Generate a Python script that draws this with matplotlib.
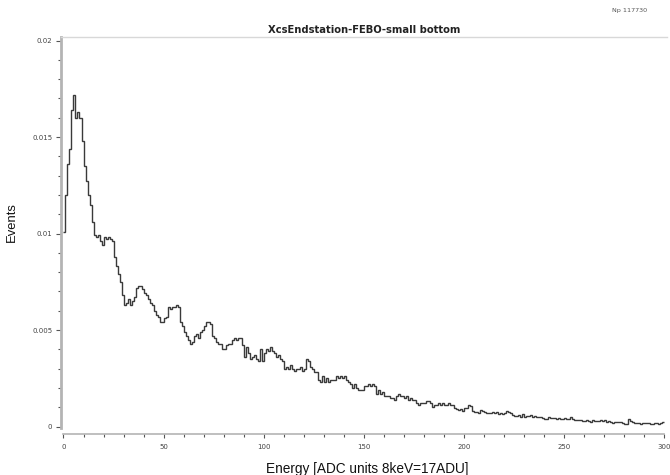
"""Energy spectrum, XcsEndstation FEBO small bottom — step histogram."""

import numpy as np
import matplotlib as mpl

mpl.use("Agg")
import matplotlib.pyplot as plt
from matplotlib.ticker import FuncFormatter, MultipleLocator

INK = "#3a3a3a"
TICK = "#555555"
SPINE = "#b4b4b4"
FRAME = "#d8d8d8"

TITLE = "XcsEndstation-FEBO-small bottom"
CORNER = "Np 117730"
XLABEL = "Energy [ADC units 8keV=17ADU]"
YLABEL = "Events"

E_MIN, E_MAX = 0, 300  # one bin per ADC unit

# normalised events per bin
EVENTS_0_100 = [
    0.0101, 0.0120, 0.0136, 0.0144, 0.0164, 0.0172, 0.0160, 0.0163, 0.0160, 0.0148,
    0.0135, 0.0127, 0.0120, 0.0115, 0.0106, 0.0099, 0.0098, 0.0099, 0.0096, 0.0094,
    0.0098, 0.0097, 0.0098, 0.0097, 0.0096, 0.0088, 0.0083, 0.0079, 0.0075, 0.0068,
    0.0063, 0.0064, 0.0066, 0.0063, 0.0065, 0.0067, 0.0072, 0.0073, 0.0073, 0.0071,
    0.0069, 0.0068, 0.0066, 0.0064, 0.0063, 0.0060, 0.0058, 0.0057, 0.0054, 0.0054,
    0.0056, 0.0057, 0.0062, 0.0061, 0.0062, 0.0062, 0.0063, 0.0062, 0.0054, 0.0052,
    0.0049, 0.0047, 0.0045, 0.0043, 0.0044, 0.0047, 0.0048, 0.0046, 0.0049, 0.0050,
    0.0052, 0.0054, 0.0054, 0.0053, 0.0047, 0.0046, 0.0044, 0.0043, 0.0043, 0.0040,
    0.0040, 0.0042, 0.0043, 0.0043, 0.0045, 0.0046, 0.0045, 0.0046, 0.0046, 0.0042,
    0.0036, 0.0041, 0.0038, 0.0035, 0.0036, 0.0037, 0.0035, 0.0034, 0.0040, 0.0034,
]
EVENTS_100_200 = [
    0.0038, 0.0040, 0.0039, 0.0041, 0.0039, 0.0038, 0.0036, 0.0037, 0.0035, 0.0034,
    0.0030, 0.0031, 0.0030, 0.0032, 0.0030, 0.0029, 0.0030, 0.0030, 0.0031, 0.0029,
    0.0030, 0.0035, 0.0034, 0.0031, 0.0030, 0.0028, 0.0028, 0.0024, 0.0023, 0.0026,
    0.0023, 0.0025, 0.0023, 0.0024, 0.0024, 0.0024, 0.0026, 0.0025, 0.0026, 0.0025,
    0.0026, 0.0024, 0.0023, 0.0022, 0.0020, 0.0022, 0.0020, 0.0019, 0.0019, 0.0019,
    0.0021, 0.0021, 0.0022, 0.0021, 0.0022, 0.0021, 0.0017, 0.0019, 0.0017, 0.0018,
    0.0016, 0.0016, 0.0016, 0.0015, 0.0015, 0.0014, 0.0016, 0.0017, 0.0016, 0.0016,
    0.0015, 0.0016, 0.0014, 0.0015, 0.0014, 0.0014, 0.0012, 0.0011, 0.0012, 0.0012,
    0.0012, 0.0013, 0.0013, 0.0012, 0.0010, 0.0011, 0.0011, 0.0012, 0.0011, 0.0012,
    0.0011, 0.0011, 0.0012, 0.0011, 0.0011, 0.00094, 0.00090, 0.00085, 0.00090, 0.00082,
]
EVENTS_200_300 = [
    0.00094, 0.00097, 0.00110, 0.00106, 0.00082, 0.00077, 0.00077, 0.00072, 0.00085, 0.00082,
    0.00075, 0.00068, 0.00068, 0.00072, 0.00077, 0.00072, 0.00075, 0.00063, 0.00072, 0.00065,
    0.00072, 0.00082, 0.00077, 0.00068, 0.00060, 0.00054, 0.00054, 0.00058, 0.00051, 0.00065,
    0.00051, 0.00054, 0.00054, 0.00060, 0.00051, 0.00054, 0.00047, 0.00051, 0.00047, 0.00042,
    0.00037, 0.00037, 0.00047, 0.00042, 0.00042, 0.00042, 0.00040, 0.00042, 0.00037, 0.00039,
    0.00042, 0.00040, 0.00037, 0.00051, 0.00040, 0.00032, 0.00032, 0.00034, 0.00032, 0.00030,
    0.00027, 0.00034, 0.00029, 0.00025, 0.00034, 0.00030, 0.00029, 0.00030, 0.00034, 0.00030,
    0.00035, 0.00025, 0.00030, 0.00025, 0.00020, 0.00021, 0.00023, 0.00025, 0.00021, 0.00020,
    0.00013, 0.00015, 0.00037, 0.00030, 0.00025, 0.00020, 0.00020, 0.00016, 0.00013, 0.00020,
    0.00018, 0.00016, 0.00020, 0.00015, 0.00013, 0.00016, 0.00016, 0.00013, 0.00018, 0.00021,
]

events = np.array(EVENTS_0_100 + EVENTS_100_200 + EVENTS_200_300)
edges = np.arange(E_MIN, E_MAX + 1)

fig = plt.figure(figsize=(6.7, 4.75), dpi=100, facecolor="white")
ax = fig.add_axes([0.091, 0.098, 0.9045, 0.8248])

ax.stairs(events, edges, baseline=None, color=INK, linewidth=1.0)

ax.set_xlim(-1.25, 301.3)
ax.set_ylim(-0.0001, 0.0202)

ax.xaxis.set_major_locator(MultipleLocator(50))
ax.xaxis.set_minor_locator(MultipleLocator(10))
ax.yaxis.set_major_locator(MultipleLocator(0.005))
ax.yaxis.set_minor_locator(MultipleLocator(0.001))
fmt = FuncFormatter(lambda v, _: f"{v:g}")
ax.xaxis.set_major_formatter(fmt)
ax.yaxis.set_major_formatter(fmt)

ax.spines["right"].set_visible(False)
ax.spines["top"].set_color(FRAME)
ax.spines["top"].set_linewidth(1.0)
ax.spines["left"].set_color(SPINE)
ax.spines["left"].set_linewidth(2.0)
ax.spines["bottom"].set_color(SPINE)
ax.spines["bottom"].set_linewidth(1.2)
ax.spines["bottom"].set_position(("outward", 4))
ax.spines["bottom"].set_bounds(E_MIN, E_MAX)

ax.tick_params(which="both", direction="out", color=TICK, labelcolor="#444444",
               labelsize=5.0, width=0.8)
ax.tick_params(which="major", length=3.6, pad=2.5)
ax.tick_params(which="minor", length=2.0)
ax.tick_params(axis="x", which="major", length=3.0, pad=4)

ax.set_title(TITLE, fontsize=7.2, fontweight="bold", color="#222222",
             family="DejaVu Sans", pad=2.5)
ax.set_xlabel(XLABEL, fontsize=9.8, family="Liberation Sans", color="#111111")
ax.xaxis.set_label_coords(0.505, -0.085)
ax.set_ylabel(YLABEL, fontsize=9.4, family="Liberation Sans", color="#111111")
ax.yaxis.set_label_coords(-0.071, 0.526)
fig.text(0.913, 0.984, CORNER, fontsize=4.6, color="#555555", ha="left", va="top")

fig.savefig("out.png", dpi=100, facecolor="white")
